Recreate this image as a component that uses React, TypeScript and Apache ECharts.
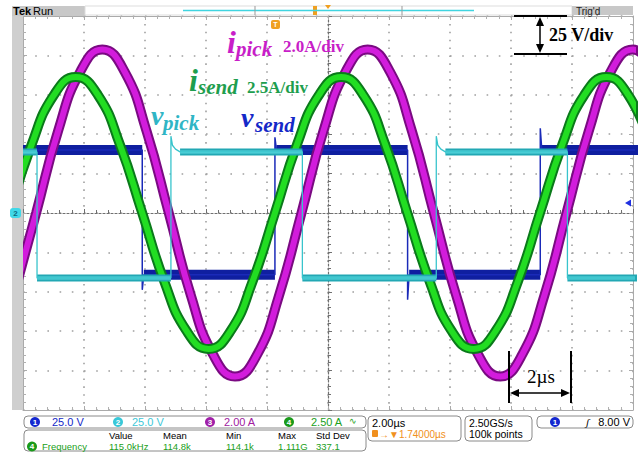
import React, { useEffect, useRef } from "react";
import * as echarts from "echarts";

// ---- DATA (time in µs, amplitude in divisions) ----
const vsendPts: [number, number][] = [
  [-10.6, 1.6], [-6.09, 1.6], [-6.09, -1.95], [-6.04, -1.57], [-1.74, -1.57],
  [-1.74, 1.92], [-1.69, 1.6], [2.61, 1.6], [2.61, -2.2], [2.66, -1.57],
  [6.96, -1.57], [6.96, 2.15], [7.01, 1.6], [10.6, 1.6],
];
const vpickPts: [number, number][] = [
  [-10.6, 1.55], [-9.54, 1.55], [-9.54, -1.65], [-5.15, -1.65], [-5.15, 1.95],
  [-5.1, 1.72], [-5.0, 1.62], [-4.85, 1.55], [-0.84, 1.55], [-0.84, -1.65],
  [3.55, -1.65], [3.55, 1.95], [3.6, 1.72], [3.7, 1.62], [3.85, 1.55],
  [7.85, 1.55], [7.85, -1.65], [10.6, -1.65],
];
const isendPts: [number, number][] = [
  [-10.44, 0], [-9.72, 1.73], [-8.99, 2.99], [-8.27, 3.45], [-7.54, 2.99], [-6.82, 1.73],
  [-6.09, 0], [-5.37, -1.73], [-4.64, -2.99], [-3.92, -3.45], [-3.19, -2.99], [-2.47, -1.73],
  [-1.74, 0], [-1.02, 1.73], [-0.3, 2.99], [0.43, 3.45], [1.16, 2.99], [1.88, 1.73],
  [2.6, 0], [3.33, -1.73], [4.05, -2.99], [4.78, -3.45], [5.5, -2.99], [6.23, -1.73],
  [6.95, 0], [7.68, 1.73], [8.4, 2.99], [9.13, 3.45], [9.85, 2.99], [10.58, 1.73],
];
const ipickPts: [number, number][] = [
  [-10.3, -2.08], [-9.57, 0], [-8.85, 2.08], [-8.12, 3.59], [-7.4, 4.15], [-6.67, 3.59],
  [-5.95, 2.08], [-5.22, 0], [-4.5, -2.08], [-3.77, -3.59], [-3.05, -4.15], [-2.32, -3.59],
  [-1.6, -2.08], [-0.87, 0], [-0.15, 2.08], [0.58, 3.59], [1.3, 4.15], [2.03, 3.59],
  [2.75, 2.08], [3.47, 0], [4.2, -2.08], [4.92, -3.59], [5.65, -4.15], [6.37, -3.59],
  [7.1, -2.08], [7.82, 0], [8.55, 2.08], [9.27, 3.59], [10.0, 4.15], [10.72, 3.59],
];

const xRange = [-10, 10];
const xStep = 2;
const yRange = [-5, 5];
const yStep = 1;

const channelIds = ["1", "2", "3", "4"];
const channelScales = ["25.0 V", "25.0 V", "2.00 A", "2.50 A"];
const measHeaders = ["Value", "Mean", "Min", "Max", "Std Dev"];
const measName = "Frequency";
const measValues = ["115.0kHz", "114.8k", "114.1k", "1.111G", "337.1"];
const timebase = "2.00µs";
const trigDelay = "→▼1.74000µs";
const sampleRate = "2.50GS/s";
const recordLen = "100k points";
const trigLevel = "8.00 V";
const ipickScale = "2.0A/div";
const isendScale = "2.5A/div";
const voltScale = "25 V/div";
const timeScale = "2µs";

// ---- STYLE ----
const SERIF = '"Liberation Serif","DejaVu Serif",serif';
const SANS = '"Liberation Sans Narrow","Liberation Sans",Arial,sans-serif';
const C_BLUE = "#0f1fa0";
const C_CYAN = "#38c4cc";
const C_MAG = "#d21cdc";
const C_MAG_D = "#7a0a82";
const C_GRN = "#22dd22";
const C_GRN_D = "#0a7a1a";
const chColors = ["#1428d0", "#38c8d8", "#a020a8", "#1a9a1a"];
const chText = ["#1428c8", "#40c8d8", "#a020a0", "#20a020"];

function hRuns(pts: [number, number][]) {
  const runs: [number, number][][] = [];
  let cur: [number, number][] = [pts[0]];
  for (let i = 1; i < pts.length; i++) {
    if (pts[i][1] === cur[cur.length - 1][1]) cur.push(pts[i]);
    else {
      if (cur.length > 1) runs.push(cur);
      cur = [pts[i]];
    }
  }
  if (cur.length > 1) runs.push(cur);
  return runs;
}

function T(x: number, y: number, text: string, font: string, fill: string, align = "left") {
  return {
    type: "text", x, y, silent: true, z: 100,
    style: { text, font, fill, align, verticalAlign: "middle", textAlign: align, textVerticalAlign: "middle" },
  };
}
function L(x1: number, y1: number, x2: number, y2: number, stroke: string, lineWidth = 1) {
  return { type: "line", silent: true, z: 100, shape: { x1, y1, x2, y2 }, style: { stroke, lineWidth } };
}
function P(points: number[][], fill: string) {
  return { type: "polygon", silent: true, z: 100, shape: { points }, style: { fill } };
}
function R(x: number, y: number, width: number, height: number, fill: string, stroke?: string, r = 0) {
  return { type: "rect", silent: true, z: 90, shape: { x, y, width, height, r }, style: { fill, stroke: stroke || null, lineWidth: 1 } };
}
function Tag(cx: number, cy: number, label: string, color: string) {
  return [
    { type: "circle", silent: true, z: 100, shape: { cx, cy, r: 5 }, style: { fill: color } },
    T(cx, cy, label, `bold 8px ${SANS}`, "#fff", "center"),
  ];
}

export default function App() {
  const ref = useRef<HTMLDivElement>(null);
  useEffect(() => {
    if (!ref.current) return;
    const chart = echarts.init(ref.current, undefined, { renderer: "svg" });
    const base = { type: "line", symbol: "none", silent: true, xAxisIndex: 0, yAxisIndex: 0, animation: false };
    const series: any[] = [];
    hRuns(vsendPts).forEach((r) => series.push({ ...base, data: r, lineStyle: { color: C_BLUE, width: 10 } }));
    series.push({ ...base, data: vsendPts, lineStyle: { color: "#1a2ab8", width: 1.5 } });
    series.push({ ...base, data: ipickPts, smooth: true, lineStyle: { color: C_MAG_D, width: 10 } });
    series.push({ ...base, data: ipickPts, smooth: true, lineStyle: { color: C_MAG, width: 6 } });
    series.push({ ...base, data: isendPts, smooth: true, lineStyle: { color: C_GRN_D, width: 10 } });
    series.push({ ...base, data: isendPts, smooth: true, lineStyle: { color: C_GRN, width: 6 } });
    hRuns(vpickPts).forEach((r) => {
      series.push({ ...base, data: r, lineStyle: { color: "#22a8b4", width: 7 } });
      series.push({ ...base, data: r, lineStyle: { color: "#5ad6de", width: 3 } });
    });
    series.push({ ...base, data: vpickPts, lineStyle: { color: C_CYAN, width: 1.3 } });

    const frameAx = {
      type: "value", axisLabel: { show: false },
      axisLine: { show: true, onZero: false, lineStyle: { color: "#aaaaaa" } },
      axisTick: { show: true, inside: true, length: 4, lineStyle: { color: "#aaaaaa" } },
      minorTick: { show: true, splitNumber: 5, length: 3, lineStyle: { color: "#b0b0b0" } },
    };
    const centerAx = {
      type: "value", axisLabel: { show: false }, splitLine: { show: false },
      axisLine: { show: true, onZero: true, lineStyle: { color: "#707070", width: 1.2, type: [2, 2] } },
      axisTick: { show: true, inside: true, length: 4, lineStyle: { color: "#707070" } },
      minorTick: { show: true, splitNumber: 5, length: 3, lineStyle: { color: "#707070" } },
    };
    const xr = { min: xRange[0], max: xRange[1], interval: xStep };
    const yr = { min: yRange[0], max: yRange[1], interval: yStep };

    const g: any[] = [];
    // left strip & header
    g.push(R(12, 15, 11, 395, "#cfcfcf"));
    g.push(R(12, 6, 73, 10, "#c8c8c8"));
    g.push(T(13, 11, "Tek", `bold 11px ${SANS}`, "#000"));
    g.push(T(33, 11, "Run", `11px ${SANS}`, "#000"));
    g.push(R(85, 6, 487, 9, "#fff", "#dddddd"));
    g.push(L(183, 10.5, 474, 10.5, "#40d4e0", 1.5));
    g.push(L(255, 6, 255, 15, "#999", 1));
    g.push(L(402, 6, 402, 15, "#999", 1));
    g.push(R(313, 6, 4, 9, "#f0a020"));
    g.push(P([[325, 5], [331, 5], [328, 9]], "#f0a020"));
    g.push(R(572, 6, 61, 9, "#c8c8c8"));
    g.push(T(576, 11, "Trig'd", `10px ${SANS}`, "#222"));
    g.push(R(271, 20, 9, 9, "#f0a020", undefined, 2));
    g.push(T(275.5, 24.5, "T", `bold 7px ${SANS}`, "#fff", "center"));
    // channel 2 ground marker & right arrow
    g.push(R(10, 208, 11, 10, "#40d8e8", undefined, 3));
    g.push(T(15.5, 213, "2", `bold 8px ${SANS}`, "#0a6a80", "center"));
    g.push(P([[625, 203], [631, 199.5], [631, 206.5]], "#2030e0"));

    // trace labels
    g.push(T(227, 42, "i", `italic bold 32px ${SERIF}`, "#c81ec8"));
    g.push(T(236, 49, "pick", `italic bold 21px ${SERIF}`, "#c81ec8"));
    g.push(T(283, 46, ipickScale, `bold 17px ${SERIF}`, "#c81ec8"));
    g.push(T(189, 80, "i", `italic bold 32px ${SERIF}`, "#1e9e4e"));
    g.push(T(198, 87, "send", `italic bold 21px ${SERIF}`, "#1e9e4e"));
    g.push(T(247, 87, isendScale, `bold 17px ${SERIF}`, "#1e9e4e"));
    g.push(T(151, 115, "v", `italic bold 28px ${SERIF}`, "#2fb5c5"));
    g.push(T(163, 123, "pick", `italic bold 21px ${SERIF}`, "#2fb5c5"));
    g.push(T(241, 117, "v", `italic bold 28px ${SERIF}`, "#1428c8"));
    g.push(T(255, 125, "send", `italic bold 21px ${SERIF}`, "#1428c8"));

    // 25 V/div marker
    g.push(L(514, 16, 567, 16, "#000", 2));
    g.push(L(514, 54, 567, 54, "#000", 2));
    g.push(L(540, 22, 540, 48, "#000", 1.5));
    g.push(P([[540, 17], [536, 26], [544, 26]], "#000"));
    g.push(P([[540, 53], [536, 44], [544, 44]], "#000"));
    g.push(T(549, 35, voltScale, `bold 18px ${SERIF}`, "#000"));
    // 2µs marker
    g.push(L(509, 351, 509, 403, "#000", 2));
    g.push(L(571, 351, 571, 403, "#000", 2));
    g.push(L(516, 393, 564, 393, "#000", 1.5));
    g.push(P([[510, 393], [519, 389], [519, 397]], "#000"));
    g.push(P([[570, 393], [561, 389], [561, 397]], "#000"));
    g.push(T(527, 376, timeScale, `19px ${SERIF}`, "#000"));

    // status bar
    const bs = "#8a8a8a";
    g.push(R(24, 416, 342, 12, "#fff", bs, 4));
    g.push(R(24, 430, 342, 21, "#fff", bs, 4));
    g.push(R(368, 416, 93, 25, "#fff", bs, 4));
    g.push(R(465, 416, 67, 25, "#fff", bs, 4));
    g.push(R(537, 416, 96, 12, "#fff", bs, 4));
    const tagX = [35, 118, 210, 289];
    const valX = [52, 132, 224, 311];
    channelIds.forEach((id, i) => {
      g.push(...Tag(tagX[i], 422, id, chColors[i]));
      g.push(T(valX[i], 422, channelScales[i], `11px ${SANS}`, chText[i]));
    });
    g.push(T(349, 421, "∿", `9px ${SANS}`, chText[3]));
    g.push(T(372, 422.5, timebase, `11px ${SANS}`, "#000"));
    g.push(R(372, 430, 6, 7, "#f09020", undefined, 1));
    g.push(T(379, 434, trigDelay, `10px ${SANS}`, "#f09020"));
    g.push(T(469, 422.5, sampleRate, `10.5px ${SANS}`, "#000"));
    g.push(T(469, 434, recordLen, `10.5px ${SANS}`, "#000"));
    g.push(...Tag(555, 422, "1", chColors[0]));
    g.push(T(586, 422, "ʃ", `italic 11px ${SERIF}`, "#000"));
    g.push(T(630, 422, trigLevel, `11px ${SANS}`, "#000", "right"));
    const measX = [109, 163, 226, 278, 316];
    measHeaders.forEach((h, i) => g.push(T(measX[i], 435.5, h, `9.5px ${SANS}`, "#000")));
    g.push(...Tag(32, 446.5, "4", chColors[3]));
    g.push(T(42, 446.5, measName, `9.5px ${SANS}`, chText[3]));
    measValues.forEach((v, i) => g.push(T(measX[i], 446.5, v, `9.5px ${SANS}`, chText[3])));

    chart.setOption({
      animation: false,
      backgroundColor: "#fff",
      grid: [
        { left: 23, top: 16, width: 610, height: 394 },
        { left: 23, top: 16, width: 610, height: 394 },
      ],
      xAxis: [
        { ...frameAx, ...xr, gridIndex: 0, position: "bottom", splitLine: { show: true, lineStyle: { color: "#a0a0a0", width: 1.6, type: [1.6, 6.28] } } },
        { ...frameAx, ...xr, gridIndex: 0, position: "top", splitLine: { show: false } },
        { ...centerAx, ...xr, gridIndex: 1, position: "bottom" },
      ],
      yAxis: [
        { ...frameAx, ...yr, gridIndex: 0, position: "left", splitLine: { show: true, lineStyle: { color: "#a0a0a0", width: 1.6, type: [1.6, 10.6] } } },
        { ...frameAx, ...yr, gridIndex: 0, position: "right", splitLine: { show: false } },
        { ...centerAx, ...yr, gridIndex: 1, position: "left" },
      ],
      series,
      graphic: { elements: g },
    });
    return () => chart.dispose();
  }, []);
  return (
    <div
      ref={ref}
      style={{ position: "fixed", left: 0, top: 0, width: 643, height: 456, background: "#fff" }}
    />
  );
}
